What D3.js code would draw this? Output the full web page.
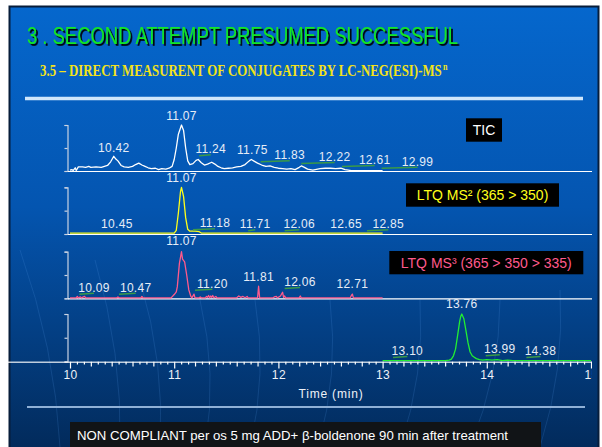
<!DOCTYPE html>
<html><head><meta charset="utf-8">
<script src="https://cdn.jsdelivr.net/npm/d3@7"></script>
<style>html,body{margin:0;padding:0;background:#fff;}svg{display:block;}</style>
</head><body><svg id="c" width="602" height="447"></svg>
<script>
// ---------------- DATA ----------------
const titleText = "3 . SECOND ATTEMPT PRESUMED SUCCESSFUL";
const subtitleText = "3.5 \u2013 DIRECT MEASURENT OF CONJUGATES BY LC-NEG(ESI)-MS";
const subtitleSup = "n";
const footerText = "NON COMPLIANT per os 5 mg ADD+ \u03b2-boldenone 90 min after treatment";
const xTickLabels = [10, 11, 12, 13, 14, 15];
const xAxisTitle = "Time (min)";

const ticTimes  = [10.00,10.02,10.03,10.05,10.06,10.08,10.12,10.15,10.18,10.20,10.25,10.30,10.33,10.36,10.39,10.42,10.44,10.46,10.49,10.52,10.56,10.60,10.63,10.66,10.69,10.72,10.75,10.78,10.82,10.85,10.88,10.92,10.95,10.98,11.00,11.02,11.04,11.07,11.09,11.11,11.13,11.15,11.18,11.21,11.23,11.26,11.29,11.32,11.36,11.39,11.42,11.45,11.48,11.52,11.56,11.60,11.64,11.68,11.72,11.74,11.77,11.80,11.84,11.88,11.92,11.96,12.00,12.04,12.08,12.12,12.16,12.20,12.22,12.25,12.28,12.33,12.40,12.45,12.50,12.55,12.60,12.64,12.70,12.80,12.90,13.00];
const ticValues = [2,3,1,7,1,9,9,8,10,8,9,8,10,12,20,32,26,22,12,9,8,10,14,17,13,10,7,5,6,3,5,4,6,10,25,50,80,100,88,50,22,14,16,23,25,18,13,15,19,15,10,7,5,6,7,9,10,14,22,25,21,17,13,10,11,8,6,5,4,5,3,8,11,8,4,2,5,6,6,5,6,3,1,1,1,1];

const ms2Times  = [10.00,10.50,11.00,11.02,11.04,11.06,11.07,11.09,11.11,11.13,11.15,11.20,11.24,11.26,11.50,12.00,12.50,13.00];
const ms2Values = [2,2,2,8,45,90,100,80,35,10,6,6,5,2,2,2,2,2];

const ms3Times  = [10.00,10.06,10.07,10.08,10.10,10.11,10.14,10.15,10.45,10.46,10.47,10.68,10.69,10.70,10.97,11.00,11.02,11.03,11.05,11.07,11.08,11.10,11.12,11.14,11.16,11.17,11.19,11.20,11.24,11.25,11.26,11.30,11.31,11.32,11.33,11.34,11.35,11.36,11.37,11.38,11.40,11.41,11.60,11.62,11.64,11.66,11.68,11.70,11.71,11.80,11.81,11.82,11.95,11.96,11.98,11.99,12.02,12.04,12.05,12.06,12.07,12.20,12.21,12.22,12.69,12.70,12.71,12.72,13.00];
const ms3Values = [1,1,4,1,3,1,4,1,1,3,1,1,4,1,1,8,14,25,75,100,84,78,50,18,4,1,9,1,1,3,1,1,4,2,6,1,5,2,6,1,4,1,1,5,2,4,1,4,1,1,26,1,1,3,4,1,5,13,2,5,1,1,5,1,1,6,9,1,1];

const greenTimes  = [13.00,13.30,13.50,13.60,13.64,13.66,13.68,13.70,13.72,13.74,13.75,13.76,13.78,13.80,13.82,13.84,13.86,13.88,13.90,13.93,13.96,14.00,14.05,14.10,14.15,14.20,14.25,14.50,15.00];
const greenValues = [2,2,2,2,3,5,12,26,55,85,95,100,90,65,39,20,12,9,6,4,3,4,3,4,2,3,2,2,2];

const ticLabels   = ["10.42","11.07","11.24","11.75","11.83","12.22","12.61","12.99"];
const ms2Labels   = ["11.07","10.45","11.18","11.71","12.06","12.65","12.85"];
const ms3Labels   = ["11.07","10.09","10.47","11.20","11.81","12.06","12.71"];
const greenLabels = ["13.76","13.10","13.99","14.38"];

const legendTexts = ["TIC", "LTQ MS\u00b2 (365 > 350)", "LTQ MS\u00b3 (365 > 350 > 335)"];

// ---------------- LAYOUT (positions/styles) ----------------
// label offsets: [dx from peak (px), height above baseline (px)]
const ticLayout   = [[0,19.3],[0,51],[11.5,17.7],[0,16.7],[29,11.7],[33.3,10],[32.7,7],[36,5.3]];
const ms2Layout   = [[0,52],[0,5.7],[22,6.7],[7,5.7],[14.6,5.7],[0,5.7],[21.3,5.7]];
const ms3Layout   = [[0,53.3],[14.6,6.6],[16.7,6.6],[17.3,10.6],[0,17.3],[15.3,12.3],[0,10]];
const greenLayout = [[0,53.2],[14.3,6.5],[14,8.2],[14,6.5]];

const W = 602, H = 447;
const svg = d3.select("#c");
const defs = svg.append("defs");
const g = defs.append("linearGradient").attr("id","bg").attr("x1",0).attr("y1",0).attr("x2",0).attr("y2",1);
g.append("stop").attr("offset","0%").attr("stop-color","#0567cd");
g.append("stop").attr("offset","45%").attr("stop-color","#0455b0");
g.append("stop").attr("offset","100%").attr("stop-color","#022a5a");
defs.append("clipPath").attr("id","clipx").append("rect").attr("x",0).attr("y",0).attr("width",592).attr("height",H);
const sh = defs.append("filter").attr("id","shadow").attr("x","-5%").attr("y","-20%").attr("width","110%").attr("height","150%");
sh.append("feDropShadow").attr("dx",1.8).attr("dy",1.8).attr("stdDeviation",0.3).attr("flood-color","#000").attr("flood-opacity",1);

// slide
svg.append("rect").attr("x",9.5).attr("y",6.5).attr("width",589).attr("height",445)
  .attr("fill","url(#bg)").attr("stroke","#071d3a").attr("stroke-width",2);

// faint decorative curves
const deco = svg.append("g").attr("fill","none").attr("stroke","#5a9ae8").attr("stroke-opacity",0.18).attr("stroke-width",1);
[[20,250,60,447],[95,260,120,447],[140,280,160,447],[200,300,205,447],[255,300,250,447],[330,300,318,447],[420,300,400,447],[500,300,470,447],[560,290,540,447]].forEach(d=>{
  deco.append("path").attr("d",`M${d[0]},${d[1]} Q${(d[0]+d[2])/2+15},${(d[1]+d[3])/2} ${d[2]},${d[3]}`);
});

// title (with drop shadow)
svg.append("text").attr("x",27).attr("y",44).text(titleText)
  .attr("font-family","'Liberation Sans Narrow','Liberation Sans',Arial").attr("font-size",24)
  .attr("textLength",431).attr("lengthAdjust","spacingAndGlyphs").attr("fill","#12e626")
  .attr("filter","url(#shadow)");

// subtitle with superscript: horizontally condensed via transform
const stg = svg.append("g");
const st = stg.append("text").attr("x",0).attr("y",0)
  .attr("font-family","'Liberation Serif','Times New Roman',serif").attr("font-weight","bold").attr("font-size",16)
  .attr("fill","#f2e21a");
const stMain = st.append("tspan").text(subtitleText);
st.append("tspan").text(subtitleSup).attr("font-size",10).attr("dx",1.5).attr("dy",-6);
const natW = stMain.node().getComputedTextLength() || 470;
stg.attr("transform",`translate(40,76) scale(${402/natW},1)`);

// separator lines
svg.append("line").attr("x1",25).attr("x2",583).attr("y1",98.5).attr("y2",98.5).attr("stroke","#cfe6fb").attr("stroke-width",3.5);
svg.append("line").attr("x1",27).attr("x2",585).attr("y1",407).attr("y2",407).attr("stroke","#8fb0d6").attr("stroke-width",2);

// scales
const x = d3.scaleLinear().domain([10,15]).range([70,591]);

const panels = [
  {times:ticTimes, values:ticValues, color:"#ffffff", y0:171, y1:125, labels:ticLabels, layout:ticLayout},
  {times:ms2Times, values:ms2Values, color:"#ffff1a", y0:234, y1:187.3, labels:ms2Labels, layout:ms2Layout},
  {times:ms3Times, values:ms3Values, color:"#ff5a8c", y0:298.3, y1:251.7, labels:ms3Labels, layout:ms3Layout},
  {times:greenTimes, values:greenValues, color:"#22ee33", y0:361.5, y1:314, labels:greenLabels, layout:greenLayout}
];

panels.forEach((p,i)=>{
  const y = d3.scaleLinear().domain([0,100]).range([p.y0,p.y1]);
  const ya = svg.append("g").attr("transform","translate(67.5,0)")
    .call(d3.axisLeft(y).tickValues([0,50,100]).tickSizeInner(3).tickSizeOuter(3).tickFormat(""));
  ya.selectAll("path,line").attr("stroke","#c9d3e3").attr("stroke-width",1.2);
  if (i < 3) {
    svg.append("line").attr("x1",68).attr("x2",592).attr("y1",p.y0+0.5).attr("y2",p.y0+0.5)
      .attr("stroke","#ffffff").attr("stroke-width",1.2);
  }
  const pts = p.times.map((t,k)=>[t,p.values[k]]);
  svg.append("path").datum(pts).attr("fill","none").attr("stroke",p.color).attr("stroke-width",1.3)
    .attr("stroke-linejoin","round")
    .attr("d", d3.line().x(d=>x(d[0])).y(d=>y(d[1])));
  p.labels.forEach((lab,k)=>{
    const [dx,up] = p.layout[k];
    const px = x(+lab), ly = p.y0 - up;
    if (dx > 3) {
      svg.append("line").attr("x1",px).attr("x2",px+dx).attr("y1",ly+2.5).attr("y2",ly+1.5)
        .attr("stroke","#3a9a48").attr("stroke-width",1.6);
    }
    svg.append("text").attr("x",px+dx).attr("y",ly).attr("text-anchor","middle").text(lab)
      .attr("font-family","'Liberation Sans',Arial").attr("font-size",12).attr("letter-spacing",0.3).attr("fill","#e6edf7");
  });
});

// x axis
const ax = svg.append("g").attr("transform","translate(0,361.5)").attr("clip-path","url(#clipx)");
const minor = d3.range(0,76).map(i=>10+i/15).filter(v=>Math.abs(v-Math.round(v))>1e-6 && Math.abs(v*5-Math.round(v*5))>1e-6);
const medium = d3.range(0,26).map(i=>10+i*0.2).filter(v=>Math.abs(v-Math.round(v))>1e-6);
ax.call(d3.axisBottom(x).tickValues(minor).tickSize(3).tickFormat(""));
ax.append("g").call(d3.axisBottom(x).tickValues(medium).tickSize(5).tickFormat("")).select(".domain").remove();
const major = ax.append("g").call(d3.axisBottom(x).tickValues(xTickLabels).tickSize(7).tickFormat(d3.format("d")));
major.select(".domain").remove();
ax.selectAll("path").attr("stroke","#ffffff").attr("stroke-width",1.5).attr("d","M-2,0.5H594");
ax.selectAll("line").attr("stroke","#ffffff").attr("stroke-width",1.2);
major.selectAll("text").attr("font-family","'Liberation Sans',Arial").attr("font-size",12).attr("fill","#eef2f8").attr("dy","0.6em").attr("letter-spacing",0.4);
svg.append("text").attr("x",331).attr("y",398).attr("text-anchor","middle").text(xAxisTitle)
  .attr("font-family","'Liberation Sans',Arial").attr("font-size",12).attr("letter-spacing",0.8).attr("fill","#eef2f8");

// legend boxes
const legends = [
  {text:legendTexts[0], color:"#ffffff", x:466, y:118.3, w:36, h:23.4},
  {text:legendTexts[1], color:"#ffff1a", x:406, y:183.3, w:153, h:23.4},
  {text:legendTexts[2], color:"#ff5a8c", x:389.3, y:251, w:194, h:23.3}
];
legends.forEach(l=>{
  svg.append("rect").attr("x",l.x).attr("y",l.y).attr("width",l.w).attr("height",l.h).attr("fill","#000");
  svg.append("text").attr("x",l.x+l.w/2).attr("y",l.y+l.h/2+5).attr("text-anchor","middle").text(l.text)
    .attr("font-family","'Liberation Sans',Arial").attr("font-size",14).attr("fill",l.color);
});

// footer
svg.append("rect").attr("x",70).attr("y",422).attr("width",471).attr("height",25).attr("fill","#111417");
svg.append("text").attr("x",77).attr("y",440).text(footerText)
  .attr("font-family","'Liberation Sans',Arial").attr("font-size",13)
  .attr("textLength",431).attr("lengthAdjust","spacingAndGlyphs").attr("fill","#ffffff");
</script></body></html>
